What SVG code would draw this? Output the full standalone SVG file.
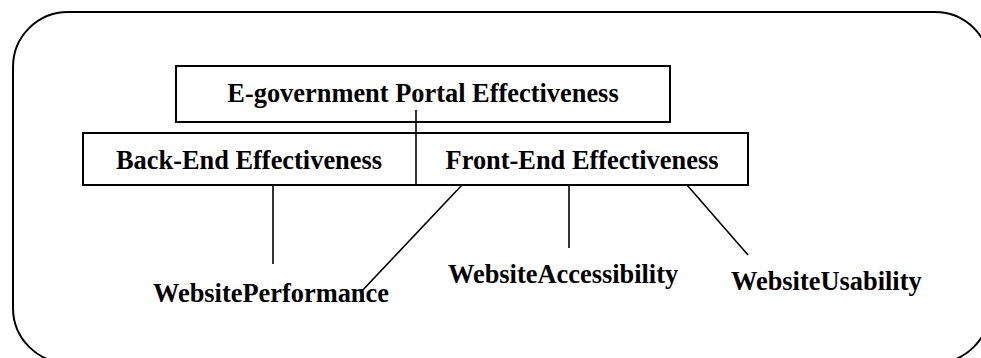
<svg xmlns="http://www.w3.org/2000/svg" width="981" height="358" viewBox="0 0 981 358">
<style>
.frame{fill:none;stroke:#000;stroke-width:2}
.box{fill:#fff;stroke:#000;stroke-width:2}
.lbl{font-family:"Liberation Serif","Times New Roman",serif;font-weight:bold;font-size:26.4px;fill:#000}
.conn line{stroke:#000;stroke-width:1.6}
</style>
<rect class="frame" x="13" y="12" width="977" height="351" rx="55" ry="55"/>
<g id="back-front">
<rect class="box" x="83" y="133" width="665" height="52"/>
<text class="lbl" x="249" y="169" text-anchor="middle">Back-End Effectiveness</text>
<text class="lbl" x="582" y="169" text-anchor="middle">Front-End Effectiveness</text>
</g>
<g id="portal">
<rect class="box" x="176" y="66" width="494" height="56"/>
<text class="lbl" x="423" y="101.5" text-anchor="middle">E-government Portal Effectiveness</text>
</g>
<g id="connectors" class="conn">
<line x1="416" y1="110" x2="416" y2="186"/>
<line x1="273" y1="185" x2="273" y2="264"/>
<line x1="462" y1="185" x2="360" y2="293"/>
<line x1="569" y1="185" x2="569" y2="248"/>
<line x1="687" y1="185" x2="748" y2="255"/>
</g>
<g id="performance"><text class="lbl" x="153" y="301.5">WebsitePerformance</text></g>
<g id="accessibility"><text class="lbl" x="448" y="283">WebsiteAccessibility</text></g>
<g id="usability"><text class="lbl" x="731" y="290">WebsiteUsability</text></g>
</svg>
